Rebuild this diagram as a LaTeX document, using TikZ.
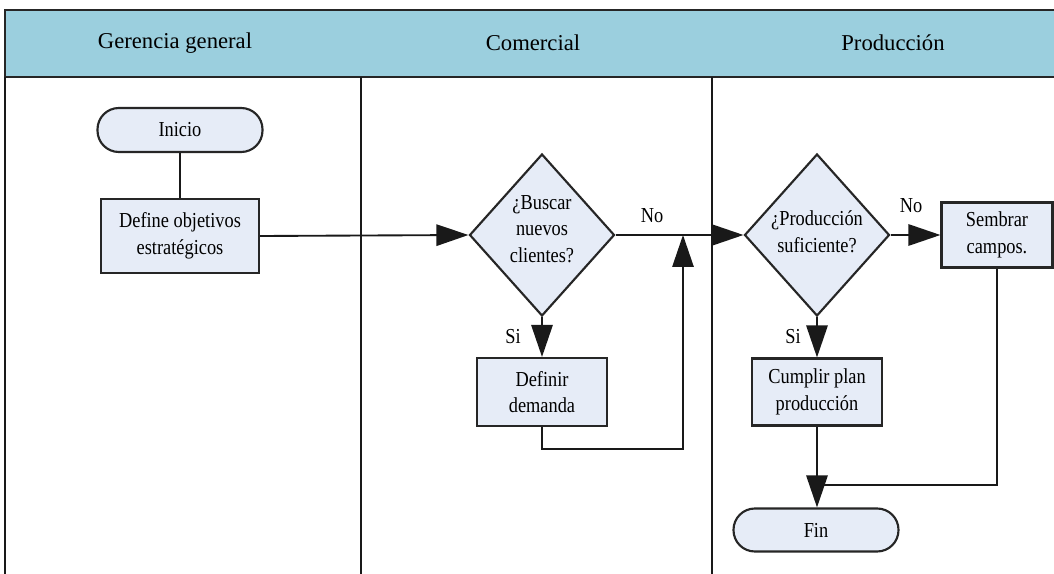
\documentclass[tikz,border=0pt]{standalone}
\usepackage{fontspec}
\setmainfont{Liberation Serif}
\newfontfamily\bodyfont[FakeStretch=0.86]{Liberation Serif}
\usetikzlibrary{shapes.geometric,arrows.meta}
\definecolor{hdr}{RGB}{155,207,222}
\definecolor{boxfill}{RGB}{230,236,247}
\tikzset{
  txtfont/.style={font=\bodyfont\fontsize{16}{20}\selectfont},
  box/.style={draw=black!85, line width=1.6pt, fill=boxfill, inner sep=0pt, align=center, txtfont},
  term/.style={box, rounded corners=16pt},
  dia/.style={draw=black!85, diamond, line width=1.6pt, fill=boxfill, inner sep=0pt, minimum width=108.75pt, minimum height=121.5pt},
  lbl/.style={txtfont, align=center, inner sep=0pt},
  hdrtext/.style={font=\fontsize{17}{20}\selectfont, inner sep=0pt},
  conn/.style={line width=1.4pt, draw=black!90},
  arr/.style={conn, -{Triangle[length=24pt,width=16pt]}},
  lane/.style={line width=1.5pt, draw=black!90},
  hdrline/.style={line width=2.2pt, draw=black!85}
}
\begin{document}
\begin{tikzpicture}[x=0.75pt,y=-0.75pt]
\clip (0,0) rectangle (1054,574);
\fill[white] (0,0) rectangle (1054,574);
% header
\fill[hdr] (5,10) rectangle (1060,77);
\draw[hdrline] (1060,10) -- (5,10) -- (5,77) -- (1060,77);
\node[hdrtext] (h1) at (175,43) {Gerencia general};
\node[hdrtext] (h2) at (533,43) {Comercial};
\node[hdrtext] (h3) at (893,43) {Producción};
% lanes
\draw[lane] (5,77) -- (5,580);
\draw[lane] (361,77) -- (361,580);
\draw[lane] (712,77) -- (712,580);
% nodes
\node[term, minimum width=123.75pt, minimum height=33pt] (ini) at (180,130) {Inicio};
\node[box, minimum width=118.5pt, minimum height=55.5pt] (def) at (180,236) {Define objetivos\\estratégicos};
\node[dia] (d1) at (542,235) {};
\node[lbl] (d1t) at (542,229) {¿Buscar\\nuevos\\clientes?};
\node[box, minimum width=97.5pt, minimum height=51pt] (dem) at (542,392) {Definir\\demanda};
\node[dia] (d2) at (817,235) {};
\node[lbl] (d2t) at (817,232) {¿Producción\\suficiente?};
\node[box, minimum width=83.25pt, minimum height=48.75pt] (sem) at (997,235) {Sembrar\\campos.};
\node[box, minimum width=97.5pt, minimum height=50.25pt] (cum) at (817,392) {Cumplir plan\\producción};
\node[term, minimum width=123.75pt, minimum height=32.25pt] (fin) at (816,530) {Fin};
% labels
\node[lbl] (no1) at (652,216) {No};
\node[lbl] (si1) at (513,337) {Si};
\node[lbl] (no2) at (911,206) {No};
\node[lbl] (si2) at (793,337) {Si};
% coordinates
\coordinate (j1) at (683,235);
\coordinate (j1b) at (683,449);
\coordinate (j2) at (817,485);
% connectors
\draw[conn] (ini) -- (def);
\draw[arr] (def.east) -- (d1.west);
\draw[arr] (d1.east) -- (d2.west);
\draw[arr] (d1.south) -- (dem.north);
\draw[arr] (dem.south) |- (j1b) -- (j1);
\draw[arr] (d2.east) -- (sem.west);
\draw[arr] (d2.south) -- (cum.north);
\draw[arr] (cum.south) -- (cum.south |- fin.north);
\draw[conn] (sem.south) |- (j2);
\end{tikzpicture}
\end{document}
